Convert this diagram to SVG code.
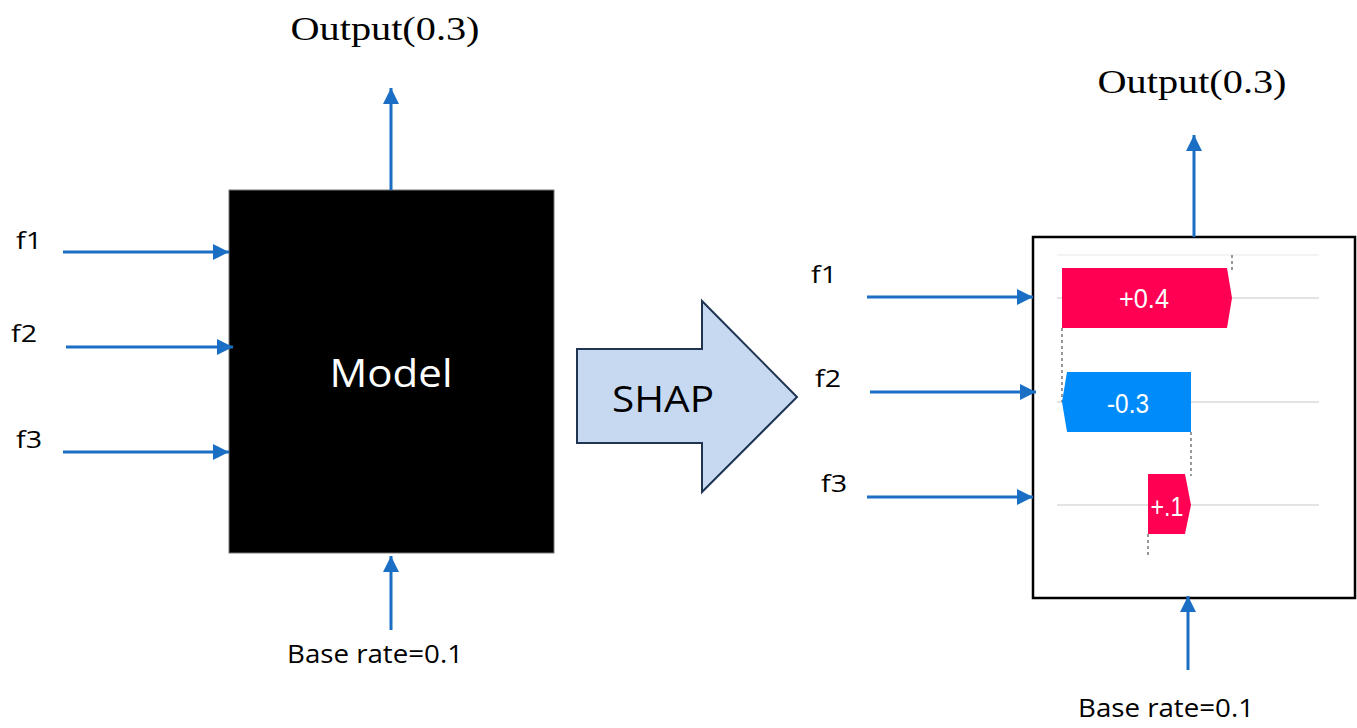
<svg xmlns="http://www.w3.org/2000/svg" width="1357" height="728" viewBox="0 0 1357 728">
<style>
.lbl{font-family:"Open Sans","Liberation Sans",sans-serif;fill:#000}
.out{font-family:"Liberation Serif","DejaVu Serif",serif;font-size:34px;fill:#000}
.conn{stroke:#1a6fc4;stroke-width:3;fill:none}
.bartxt{font-family:"Liberation Sans",Arial,sans-serif;font-size:27px;fill:#fff}
.grid{stroke:#e3e3e3;stroke-width:2}
.dash{stroke:#999;stroke-width:2;stroke-dasharray:3,3}
</style>
<defs>
<marker id="ah" markerUnits="userSpaceOnUse" markerWidth="18" markerHeight="16" refX="16" refY="8" orient="auto">
<path d="M0,0 L16,8 L0,16 Z" fill="#1a6fc4"/>
</marker>
</defs>
<rect width="1357" height="728" fill="#fff"/>

<g id="model">
<rect x="229" y="190" width="325" height="363" fill="#000" stroke="#777" stroke-width="1"/>
<text class="lbl" x="391" y="387" font-size="38" text-anchor="middle" textLength="123" lengthAdjust="spacingAndGlyphs" style="fill:#fff">Model</text>
</g>

<g id="shap-arrow">
<path d="M577,349 L702,349 L702,301 L797,397 L702,492 L702,443 L577,443 Z" fill="#c6d9f0" stroke="#1f3552" stroke-width="2" stroke-linejoin="miter"/>
<text class="lbl" x="663" y="412" font-size="36" text-anchor="middle" textLength="102" lengthAdjust="spacingAndGlyphs">SHAP</text>
</g>

<g id="shap-plot">
<rect x="1033" y="237" width="322" height="361" fill="#fff" stroke="#000" stroke-width="2.5"/>
<line class="grid" x1="1057" y1="255" x2="1319" y2="255" style="stroke:#f3f3f3"/>
<line class="grid" x1="1057" y1="298" x2="1319" y2="298"/>
<line class="grid" x1="1057" y1="402" x2="1319" y2="402"/>
<line class="grid" x1="1057" y1="505" x2="1319" y2="505"/>
<line class="dash" x1="1232" y1="255" x2="1232" y2="270"/>
<line class="dash" x1="1062" y1="328" x2="1062" y2="402"/>
<line class="dash" x1="1191" y1="432" x2="1191" y2="476"/>
<line class="dash" x1="1148" y1="534" x2="1148" y2="556"/>
<path d="M1062,268 L1227,268 L1232,298 L1227,328 L1062,328 Z" fill="#ff0052"/>
<text class="bartxt" x="1144" y="308" text-anchor="middle" textLength="50" lengthAdjust="spacingAndGlyphs">+0.4</text>
<path d="M1067,372 L1191,372 L1191,432 L1067,432 L1062,402 Z" fill="#008bfb"/>
<text class="bartxt" x="1128" y="413" text-anchor="middle" textLength="42" lengthAdjust="spacingAndGlyphs">-0.3</text>
<path d="M1148,474 L1185,474 L1191,505 L1185,534 L1148,534 Z" fill="#ff0052"/>
<text class="bartxt" x="1167" y="516" text-anchor="middle" textLength="33" lengthAdjust="spacingAndGlyphs">+.1</text>
</g>

<g id="labels">
<text class="out" x="385" y="40" text-anchor="middle" textLength="189" lengthAdjust="spacingAndGlyphs">Output(0.3)</text>
<text class="out" x="1192" y="93" text-anchor="middle" textLength="189" lengthAdjust="spacingAndGlyphs">Output(0.3)</text>
<text class="lbl" x="375" y="663" font-size="25" text-anchor="middle" textLength="176" lengthAdjust="spacingAndGlyphs">Base rate=0.1</text>
<text class="lbl" x="1166" y="717" font-size="25" text-anchor="middle" textLength="176" lengthAdjust="spacingAndGlyphs">Base rate=0.1</text>
<text class="lbl" x="16" y="249" font-size="24" textLength="26" lengthAdjust="spacingAndGlyphs">f1</text>
<text class="lbl" x="11" y="342" font-size="24" textLength="26" lengthAdjust="spacingAndGlyphs">f2</text>
<text class="lbl" x="16" y="448" font-size="24" textLength="26" lengthAdjust="spacingAndGlyphs">f3</text>
<text class="lbl" x="811" y="283" font-size="24" textLength="26" lengthAdjust="spacingAndGlyphs">f1</text>
<text class="lbl" x="815" y="387" font-size="24" textLength="26" lengthAdjust="spacingAndGlyphs">f2</text>
<text class="lbl" x="821" y="492" font-size="24" textLength="26" lengthAdjust="spacingAndGlyphs">f3</text>
</g>

<g id="connectors">
<line class="conn" x1="63" y1="252" x2="229" y2="252" marker-end="url(#ah)"/>
<line class="conn" x1="66" y1="347" x2="233" y2="347" marker-end="url(#ah)"/>
<line class="conn" x1="63" y1="452" x2="229" y2="452" marker-end="url(#ah)"/>
<line class="conn" x1="391" y1="190" x2="391" y2="88" marker-end="url(#ah)"/>
<line class="conn" x1="391" y1="630" x2="391" y2="556" marker-end="url(#ah)"/>
<line class="conn" x1="867" y1="297" x2="1033" y2="297" marker-end="url(#ah)"/>
<line class="conn" x1="870" y1="392" x2="1036" y2="392" marker-end="url(#ah)"/>
<line class="conn" x1="867" y1="497" x2="1033" y2="497" marker-end="url(#ah)"/>
<line class="conn" x1="1194" y1="237" x2="1194" y2="135" marker-end="url(#ah)"/>
<line class="conn" x1="1188" y1="670" x2="1188" y2="596" marker-end="url(#ah)"/>
</g>
</svg>
